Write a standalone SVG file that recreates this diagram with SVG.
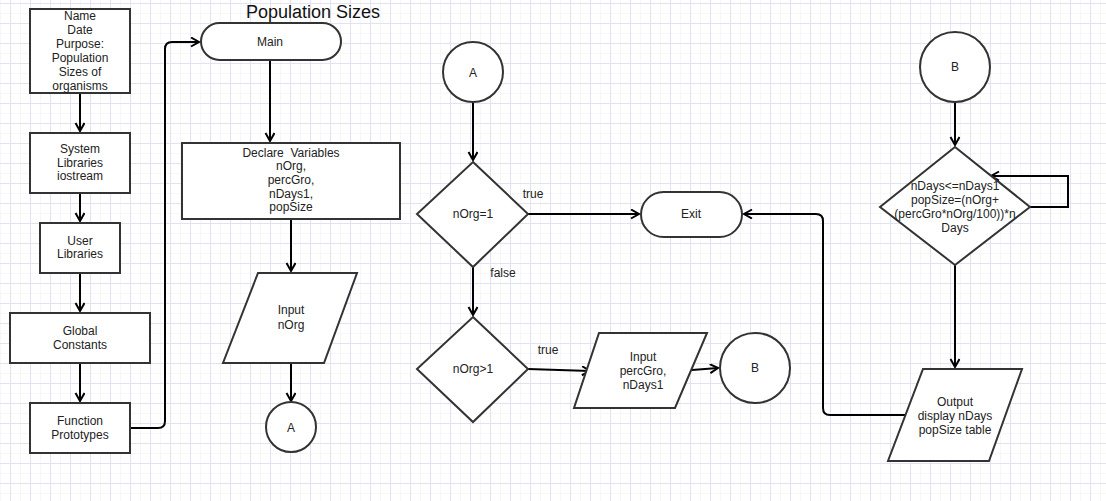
<svg xmlns="http://www.w3.org/2000/svg" width="1106" height="501" viewBox="0 0 1106 501">
<defs>
<pattern id="minor" x="0" y="3" width="10" height="10" patternUnits="userSpaceOnUse">
<path d="M0,0 H10 M0,0 V10" stroke="#f0f0f8" stroke-width="1" fill="none"/>
</pattern>
<pattern id="major" x="10" y="3" width="20" height="20" patternUnits="userSpaceOnUse">
<path d="M0,0.5 H20 M0.5,0 V20" stroke="#e2e2f0" stroke-width="1" fill="none"/>
</pattern>
<marker id="arr" markerWidth="12" markerHeight="12" refX="9" refY="5" orient="auto" markerUnits="userSpaceOnUse">
<path d="M1,0.5 L9,5 L1,9.5" fill="none" stroke="#000" stroke-width="2"/>
</marker>
<style>
.n{fill:#fff;stroke:#333;stroke-width:2}
.t{font-family:"Liberation Sans",Arial,sans-serif;font-size:12px;fill:#222;text-anchor:middle}
.c{fill:none;stroke:#000;stroke-width:2}
.ca{fill:none;stroke:#000;stroke-width:2;marker-end:url(#arr)}
</style>
</defs>
<rect width="1106" height="501" fill="#fff"/>
<rect width="1106" height="501" fill="url(#minor)"/>
<rect width="1106" height="501" fill="url(#major)"/>

<text x="246" y="18" style="font-family:'Liberation Sans',Arial,sans-serif;font-size:18px;fill:#111">Population Sizes</text>

<g id="connectors">
<path class="ca" d="M80,93 V131"/>
<path class="ca" d="M80,193 V221"/>
<path class="ca" d="M80,273 V311"/>
<path class="ca" d="M80,363 V401"/>
<path class="ca" d="M130,428 H158 Q165,428 165,421 V49 Q165,42 172,42 H199"/>
<path class="ca" d="M270,60 V141"/>
<path class="ca" d="M291,219 V271"/>
<path class="ca" d="M291,363 V401"/>
<path class="ca" d="M473,102 V160"/>
<path class="ca" d="M528,214 H639"/>
<path class="ca" d="M473,267 V315"/>
<path class="ca" d="M528,369 L590,371"/>
<path class="ca" d="M692,370 L718,368"/>
<path class="ca" d="M955,102 V145"/>
<path class="ca" d="M1030,207 H1068 V176 H991"/>
<path class="ca" d="M955,265 V367"/>
<path class="ca" d="M905,415 H830 Q823,415 823,408 V221 Q823,214 816,214 H744"/>
<text class="t" x="533" y="198">true</text>
<text class="t" x="503" y="277">false</text>
<text class="t" x="548" y="354">true</text>
</g>

<g id="n-header">
<rect class="n" x="30" y="9" width="100" height="84"/>
<text class="t"><tspan x="80" y="20">Name</tspan><tspan x="80" y="34">Date</tspan><tspan x="80" y="48">Purpose:</tspan><tspan x="80" y="62">Population</tspan><tspan x="80" y="76">Sizes of</tspan><tspan x="80" y="90">organisms</tspan></text>
</g>
<g id="n-syslib">
<rect class="n" x="30" y="133" width="100" height="60"/>
<text class="t"><tspan x="80" y="153">System</tspan><tspan x="80" y="167">Libraries</tspan><tspan x="80" y="180">iostream</tspan></text>
</g>
<g id="n-userlib">
<rect class="n" x="40" y="223" width="80" height="50"/>
<text class="t"><tspan x="80" y="245">User</tspan><tspan x="80" y="258">Libraries</tspan></text>
</g>
<g id="n-global">
<rect class="n" x="10" y="313" width="140" height="50"/>
<text class="t"><tspan x="80" y="335">Global</tspan><tspan x="80" y="349">Constants</tspan></text>
</g>
<g id="n-proto">
<rect class="n" x="30" y="403" width="100" height="50"/>
<text class="t"><tspan x="80" y="425">Function</tspan><tspan x="80" y="439">Prototypes</tspan></text>
</g>
<g id="n-main">
<rect class="n" x="201" y="23" width="140" height="37" rx="18.5"/>
<text class="t" x="270" y="46">Main</text>
</g>
<g id="n-declare">
<rect class="n" x="182" y="143" width="218" height="76"/>
<text class="t"><tspan x="291" y="157" xml:space="preserve">Declare  Variables</tspan><tspan x="291" y="170">nOrg,</tspan><tspan x="291" y="184">percGro,</tspan><tspan x="291" y="198">nDays1,</tspan><tspan x="291" y="211">popSize</tspan></text>
</g>
<g id="n-input1">
<polygon class="n" points="258,273 357,273 324,363 223,363"/>
<text class="t"><tspan x="291" y="314">Input</tspan><tspan x="291" y="329">nOrg</tspan></text>
</g>
<g id="n-a1">
<circle class="n" cx="291" cy="427" r="25"/>
<text class="t" x="291" y="432">A</text>
</g>
<g id="n-a2">
<circle class="n" cx="473" cy="72" r="30"/>
<text class="t" x="473" y="77">A</text>
</g>
<g id="n-dec1">
<polygon class="n" points="473,162 528,214 473,267 417,214"/>
<text class="t" x="473" y="218">nOrg=1</text>
</g>
<g id="n-exit">
<rect class="n" x="641" y="192" width="101" height="45" rx="22.5"/>
<text class="t" x="691" y="218">Exit</text>
</g>
<g id="n-dec2">
<polygon class="n" points="473,317 528,369 473,422 417,369"/>
<text class="t" x="473" y="373">nOrg>1</text>
</g>
<g id="n-input2">
<polygon class="n" points="599,333 707,333 675,408 574,408"/>
<text class="t"><tspan x="643" y="361">Input</tspan><tspan x="643" y="375">percGro,</tspan><tspan x="643" y="389">nDays1</tspan></text>
</g>
<g id="n-b2">
<circle class="n" cx="755" cy="368" r="35"/>
<text class="t" x="755" y="372">B</text>
</g>
<g id="n-b1">
<circle class="n" cx="955" cy="67" r="35"/>
<text class="t" x="955" y="71">B</text>
</g>
<g id="n-dec3">
<polygon class="n" points="955,147 1030,207 955,265 880,207"/>
<text class="t"><tspan x="955" y="190">nDays&lt;=nDays1</tspan><tspan x="955" y="204">popSize=(nOrg+</tspan><tspan x="955" y="218">(percGro*nOrg/100))*n</tspan><tspan x="955" y="232">Days</tspan></text>
</g>
<g id="n-output">
<polygon class="n" points="923,369 1022,369 989,461 888,461"/>
<text class="t"><tspan x="955" y="406">Output</tspan><tspan x="955" y="420">display nDays</tspan><tspan x="955" y="434">popSize table</tspan></text>
</g>
</svg>
